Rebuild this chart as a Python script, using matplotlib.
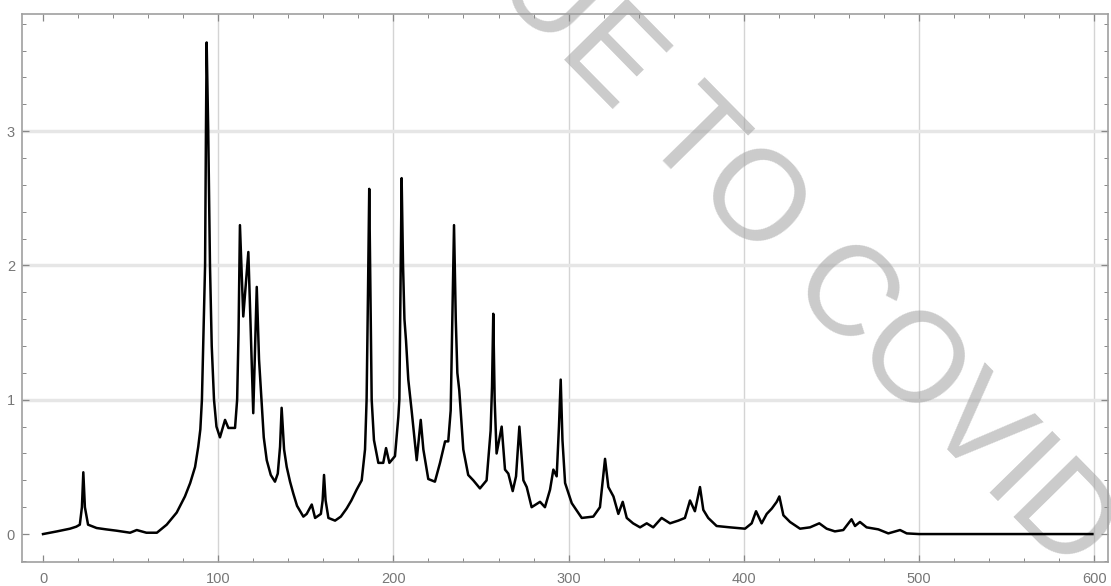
import matplotlib
matplotlib.use("Agg")
import matplotlib.pyplot as plt
from matplotlib.ticker import MultipleLocator

# Spectrum trace
x_vals = [0, 8, 15.4, 19, 21, 22.2, 23, 23.9, 25.7, 30.6, 36, 42, 49.7, 53.5, 59, 65, 70.6, 76.3, 81, 84, 86.8,
          88.6, 89.8, 90.7, 91.6, 92.5, 93.0, 93.4, 94.3, 95.3, 96.3, 97.6, 99, 101, 103.9, 105.8, 109.6,
          110.8, 111.6, 112.4, 114.3, 117.2, 120, 122, 123.3, 124.8, 126, 127.7, 130, 132.4, 134, 135.3,
          136.2, 137.6, 139.1, 141, 142.9, 145, 148.6, 150.5, 153.4, 155.3, 158.6, 159.6, 160.4, 161.3,
          162.9, 166.7, 170, 173.3, 176, 179, 181.9, 183.8, 184.7, 185.5, 186.2, 186.9, 187.6, 188.9, 191.4,
          194.2, 195.8, 197.7, 200.9, 202.8, 203.4, 204.0, 204.7, 205.5, 206.3, 207.2, 208.5, 210.4, 213.3,
          215.6, 217.1, 219.9, 223.7, 226.6, 229.5, 231.3, 232.7, 233.5, 234.6, 235.6, 236.5, 237.6,
          239.9, 242.7, 245.6, 249.4, 253.2, 255.5, 256.3, 257, 257.8, 258.9, 261.8, 263.7, 265.6, 268.1,
          270, 271.9, 274.2, 276.1, 278.9, 283.7, 286.5, 289.4, 291.3, 293.2, 294.5, 295.5, 296.5, 298,
          301.8, 307.5, 314.1, 317.9, 320.8, 322.7, 325.6, 328.4, 330.9, 333.2, 336.8, 340.8, 344.6,
          348.3, 353.1, 357.9, 362.6, 366.4, 369.3, 372.1, 375, 376.9, 379.7, 384.5, 392.1, 400.7, 404.5,
          407, 410.2, 413.1, 416, 418.8, 420.3, 422.6, 426.4, 432.1, 437.8, 443.1, 447.3, 452, 456.8,
          461.5, 463.5, 466.3, 470.1, 476.8, 482.5, 489.2, 493, 500, 550, 599]
y_vals = [0.0, 0.02, 0.04, 0.055, 0.07, 0.2, 0.46, 0.2, 0.07, 0.045, 0.035, 0.025, 0.01, 0.03, 0.01, 0.01,
          0.07, 0.16, 0.28, 0.38, 0.5, 0.65, 0.78, 1.0, 1.5, 2.0, 3.0, 3.66, 3.0, 2.0, 1.4, 1.0, 0.8, 0.72,
          0.85, 0.79, 0.79, 1.0, 1.5, 2.30, 1.62, 2.10, 0.90, 1.84, 1.3, 0.98, 0.72, 0.55, 0.44, 0.39, 0.45,
          0.65, 0.94, 0.63, 0.50, 0.39, 0.30, 0.21, 0.13, 0.15, 0.22, 0.12, 0.15, 0.25, 0.44, 0.25, 0.12,
          0.10, 0.13, 0.19, 0.25, 0.33, 0.40, 0.63, 1.0, 1.8, 2.57, 1.8, 1.0, 0.70, 0.53, 0.53, 0.64, 0.53,
          0.58, 0.87, 1.0, 1.8, 2.65, 2.0, 1.6, 1.44, 1.15, 0.92, 0.55, 0.85, 0.63, 0.41, 0.39, 0.53, 0.69,
          0.69, 0.92, 1.5, 2.30, 1.6, 1.20, 1.07, 0.63, 0.44, 0.40, 0.34, 0.40, 0.77, 1.1, 1.64, 1.0, 0.60,
          0.80, 0.48, 0.45, 0.32, 0.43, 0.80, 0.40, 0.35, 0.20, 0.24, 0.20, 0.33, 0.48, 0.43, 0.8, 1.15,
          0.7, 0.38, 0.23, 0.12, 0.13, 0.20, 0.56, 0.35, 0.28, 0.15, 0.24, 0.12, 0.08, 0.05, 0.08, 0.05,
          0.12, 0.08, 0.10, 0.12, 0.25, 0.17, 0.35, 0.18, 0.12, 0.06, 0.05, 0.04, 0.08, 0.17, 0.08, 0.15,
          0.19, 0.24, 0.28, 0.14, 0.09, 0.04, 0.05, 0.08, 0.04, 0.02, 0.03, 0.11, 0.06, 0.09, 0.05, 0.035,
          0.005, 0.03, 0.005, 0.0, 0.0, 0.0]

x_ticks = [0, 100, 200, 300, 400, 500, 600]
y_ticks = [0, 1, 2, 3]
watermark = "DUE TO COVID"

W, H = 1111, 586
fig = plt.figure(figsize=(W / 100, H / 100), dpi=100)
ax = fig.add_axes([22 / W, 1 - 562 / H, (1108 - 22) / W, (562 - 14) / H])

ax.set_xlim(-12.0, 607.9)
ax.set_ylim(-0.208, 3.872)

# grid
for gx in x_ticks[1:]:
    ax.axvline(gx, color="#d4d4d4", lw=1.0, zorder=0.5)
for gy in y_ticks[1:]:
    ax.axhline(gy, color="#e6e6e6", lw=2.5, zorder=0.5)

ax.plot(x_vals, y_vals, color="black", lw=1.8, zorder=2, solid_joinstyle="round")

ax.xaxis.set_minor_locator(MultipleLocator(20))
ax.yaxis.set_minor_locator(MultipleLocator(0.2))
ax.set_xticks(x_ticks)
ax.set_yticks(y_ticks)
ax.tick_params(which="both", direction="in", top=True, right=True, color="#888888")
ax.tick_params(which="major", length=5, width=0.9)
ax.tick_params(which="minor", length=3, width=0.7)
ax.tick_params(axis="x", pad=7, labelsize=10.5, labelcolor="#777777")
ax.tick_params(axis="y", pad=5, labelsize=10.5, labelcolor="#777777")
for lab in ax.get_xticklabels() + ax.get_yticklabels():
    lab.set_fontfamily("Liberation Sans")
for sp in ax.spines.values():
    sp.set_color("#a0a0a0")
    sp.set_linewidth(1.2)

ax.text(427 / W, 1 + 80 / H, watermark, transform=fig.transFigure, rotation=-45.5,
        rotation_mode="anchor", ha="left", va="baseline", fontsize=92,
        family="Liberation Sans", color="#a0a0a0", alpha=0.55, zorder=1.5, clip_on=False)

fig.savefig("out.png", dpi=100)
